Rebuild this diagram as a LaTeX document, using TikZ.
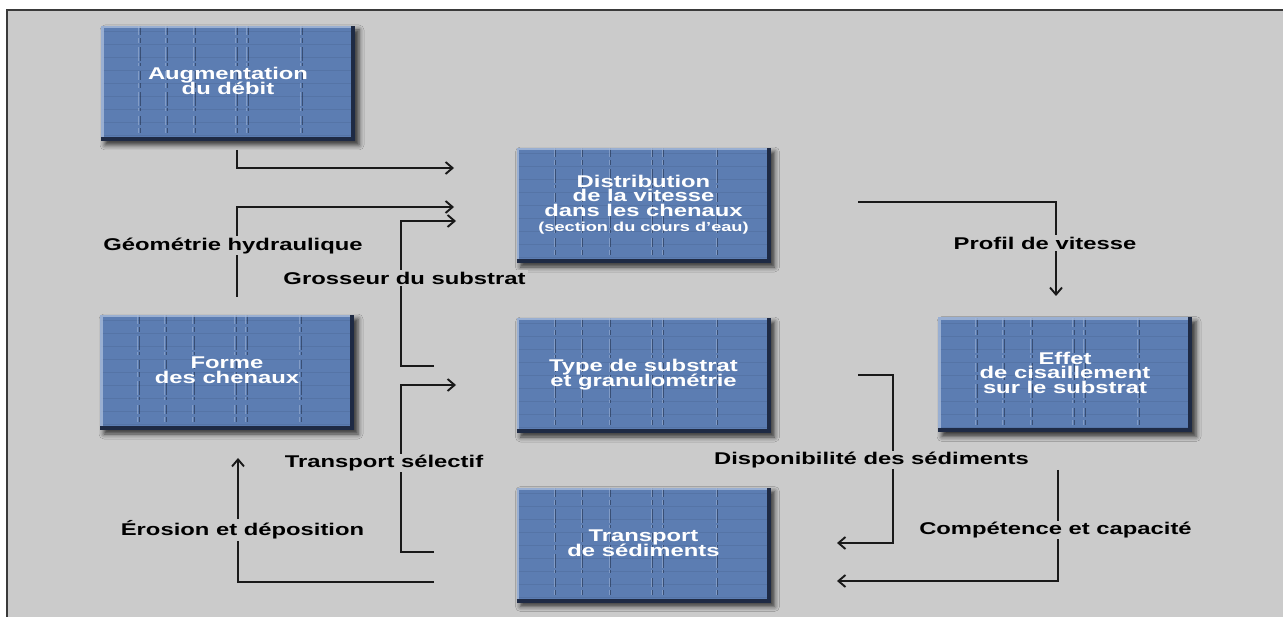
\documentclass[tikz,border=0pt]{standalone}
\usepackage{graphicx}
\usepackage{fontspec}
\newfontfamily\lsans{Liberation Sans}
\usetikzlibrary{arrows.meta,shadows.blur}

\definecolor{bg}{HTML}{CBCBCB}
\definecolor{frameline}{HTML}{3A3A3A}
\definecolor{boxblue}{HTML}{5C7DB2}
\definecolor{boxdark}{HTML}{1E2A44}
\definecolor{boxlight}{HTML}{A9BCDB}

% wide bold sans lettering
\newcommand\wtxt[1]{\scalebox{1.4}[1]{#1}}
\newcommand\boxlines[1]{\wtxt{\begin{tabular}{@{}c@{}}#1\end{tabular}}}

\tikzset{
  flowbox/.style={rectangle, minimum width=254pt, minimum height=115pt, inner sep=0pt,
    text=white, font=\lsans\bfseries\fontsize{17}{15}\selectfont},
  boxshade/.style={fill=boxblue,
    blur shadow={shadow xshift=4pt, shadow yshift=-4pt, shadow blur radius=5pt, shadow opacity=75}},
  grainH/.style={boxdark, opacity=0.1, line width=0.7pt},
  grainV/.style={boxdark, opacity=0.55, line width=0.9pt,
    dash pattern=on 9pt off 3pt on 5pt off 4pt on 14pt off 2pt on 3pt off 5pt},
  grainL/.style={boxlight, opacity=0.5, line width=0.8pt,
    dash pattern=on 9pt off 3pt on 5pt off 4pt on 14pt off 2pt on 3pt off 5pt},
  conn/.style={draw=black!90, line width=1.9pt, line join=miter},
  arr/.style={conn, -{Straight Barb[length=7pt,width=12pt]}},
  lbl/.style={fill=bg, inner xsep=2pt, inner ysep=1.5pt,
    font=\lsans\bfseries\fontsize{17}{17}\selectfont},
}

\begin{document}
\begin{tikzpicture}[x=1pt,y=-1pt]
  \useasboundingbox (0,0) rectangle (1283,617);
  \fill[white] (0,0) rectangle (1283,617);
  \fill[bg] (7,10) rectangle (1284,618);
  \draw[frameline, line width=2.2pt] (7,618) -- (7,10) -- (1284,10);

  % box faces: fill, shadow, grain and bevelled rim
  \foreach \n/\cx/\cy in {aug/228/83.5, dist/643.5/205.5, eff/1065/375,
                          form/227/372.5, typ/643.5/375.5, trs/643.5/545} {
    \coordinate (\n-c) at (\cx,\cy);
    \begin{scope}[shift={(\cx,\cy)}]
      \path[boxshade] (-127,-57.5) rectangle (127,57.5);
      \foreach \yy in {-52,-39,...,52}
        \draw[grainH] (-126,\yy) -- (126,\yy);
      \foreach \xx in {-88,-61,-33,9,20,74} {
        \draw[grainL] (\xx-1.3,-57) -- (\xx-1.3,57);
        \draw[grainV] (\xx,-57) -- (\xx,57);
      }
      \draw[boxlight, opacity=0.8, line width=2.5pt] (-125.75,57.5) -- (-125.75,-56.25) -- (127,-56.25);
      \draw[boxdark, line width=4pt] (-127,55.5) -- (125,55.5) -- (125,-57.5);
    \end{scope}
  }

  % boxes
  \node[flowbox] (aug)  at (aug-c)  {\boxlines{Augmentation\\[-2pt]du débit}};
  \node[flowbox] (dist) at (dist-c) {\boxlines{Distribution\\[-2pt]de la vitesse\\[-2pt]dans les chenaux\\{\fontsize{13}{15}\selectfont (section du cours d’eau)}}};
  \node[flowbox] (eff)  at (eff-c)  {\boxlines{Effet\\[-2pt]de cisaillement\\[-2pt]sur le substrat}};
  \node[flowbox] (form) at (form-c) {\boxlines{Forme\\[-2pt]des chenaux}};
  \node[flowbox] (typ)  at (typ-c)  {\boxlines{Type de substrat\\[-2pt]et granulométrie}};
  \node[flowbox] (trs)  at (trs-c)  {\boxlines{Transport\\[-2pt]de sédiments}};

  % connector ends
  \coordinate (aOut)  at (237,150);
  \coordinate (aIn)   at (454,168);
  \coordinate (gOut)  at (237,297);
  \coordinate (gIn)   at (454,207);
  \coordinate (sOut)  at (434,366);
  \coordinate (sIn)   at (456,221);
  \coordinate (tOut)  at (434,552);
  \coordinate (tIn)   at (456,385);
  \coordinate (eOut)  at (434,582);
  \coordinate (eIn)   at (238,458);
  \coordinate (pOut)  at (858,202);
  \coordinate (pIn)   at (1056,296);
  \coordinate (dOut)  at (858,375);
  \coordinate (dIn)   at (837,543);
  \coordinate (cOut)  at (1058,470);
  \coordinate (cIn)   at (837,581);

  % connectors
  \draw[arr] (aOut) |- (aIn);
  \draw[arr] (gOut) |- (gIn);
  \draw[arr] (sOut) -- (401,366) |- (sIn);
  \draw[arr] (tOut) -- (401,552) |- (tIn);
  \draw[arr] (eOut) -| (eIn);
  \draw[arr] (pOut) -| (pIn);
  \draw[arr] (dOut) -- (893,375) |- (dIn);
  \draw[arr] (cOut) |- (cIn);

  % connector labels
  \node[lbl] (lgeo) at (233,246)   {\wtxt{Géométrie hydraulique}};
  \node[lbl] (lgro) at (404.5,278) {\wtxt{Grosseur du substrat}};
  \node[lbl] (lsel) at (384,463)   {\wtxt{Transport sélectif}};
  \node[lbl] (lero) at (242.5,530) {\wtxt{Érosion et déposition}};
  \node[lbl] (lpro) at (1045,243)  {\wtxt{Profil de vitesse}};
  \node[lbl] (ldis) at (871.5,460) {\wtxt{Disponibilité des sédiments}};
  \node[lbl] (lcom) at (1055.5,530) {\wtxt{Compétence et capacité}};
\end{tikzpicture}
\end{document}
